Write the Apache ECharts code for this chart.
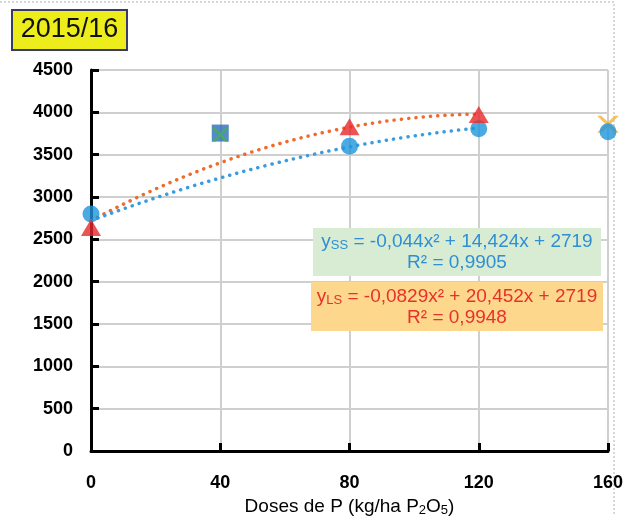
<!DOCTYPE html>
<html><head><meta charset="utf-8">
<script src="https://cdn.jsdelivr.net/npm/echarts@6/dist/echarts.min.js"></script>
<style>html,body{margin:0;padding:0;background:#fff}#c{width:623px;height:516px}</style>
</head><body><div id="c"></div>
<script>
// Data
const ssX = [0, 80, 120, 160];
const ssY = [2800, 3600, 3805, 3770];
const lsX = [0, 80, 120];
const lsY = [2640, 3830, 3975];
const squareX = [40];
const squareY = [3755];
const greenCrossX = [40];
const greenCrossY = [3735];
const orangeCrossX = [160];
const orangeCrossY = [3860];
// Trendline coefficients as printed on the chart (a, b, c) for y = a x^2 + b x + c
const ssCoef = [-0.044, 14.424, 2719];
const lsCoef = [-0.0829, 20.452, 2719];
const trendRange = [0, 120];
const yTicks = [0, 500, 1000, 1500, 2000, 2500, 3000, 3500, 4000, 4500];
const xTicks = [0, 40, 80, 120, 160];

function pairs(xs, ys){ return xs.map((x,i)=>[x, ys[i]]); }
function trend(c){
  const out = [];
  for (let x = trendRange[0]; x <= trendRange[1]; x += 2) out.push([x, c[0]*x*x + c[1]*x + c[2]]);
  return out;
}

const chart = echarts.init(document.getElementById('c'));
const FONT = '"Liberation Sans", Arial, sans-serif';
const dotted = (color) => ({color: color, width: 3.5, type: [0.1, 7.2], cap: 'round'});
const XPATH = 'path://M0,0 L2,0 L5,3 L8,0 L10,0 L6,4 L10,8 L8,8 L5,5 L2,8 L0,8 L4,4 Z';

chart.setOption({
  animation: false,
  grid: {left: 91, right: 15, top: 70, bottom: 65, containLabel: false, outerBoundsMode: 'none'},
  xAxis: {
    type: 'value', min: 0, max: 160, interval: 40,
    axisLine: {lineStyle: {color: '#000', width: 3}},
    axisTick: {inside: true, length: 8, lineStyle: {color: '#000', width: 3}},
    splitLine: {show: true, lineStyle: {color: '#cfcfcf', width: 2}},
    axisLabel: {color: '#000', fontFamily: FONT, fontWeight: 'bold', fontSize: 18, margin: 23,
      formatter: v => xTicks.includes(v) ? String(v) : ''},
    name: '{n|Doses de P (kg/ha P}{s|2}{n|O}{s|5}{n|)}',
    nameLocation: 'middle', nameGap: 42,
    nameTextStyle: {color: '#000', fontFamily: FONT, fontSize: 19,
      rich: {n: {fontFamily: FONT, fontSize: 19, color: '#000'},
             s: {fontFamily: FONT, fontSize: 13, color: '#000', padding: [8, 0, 0, 0]}}}
  },
  yAxis: {
    type: 'value', min: 0, max: 4500, interval: 500,
    axisLine: {show: true, lineStyle: {color: '#000', width: 3}},
    axisTick: {show: true, inside: true, length: 8, lineStyle: {color: '#000', width: 3}},
    splitLine: {show: true, lineStyle: {color: '#cfcfcf', width: 2}},
    axisLabel: {color: '#000', fontFamily: FONT, fontWeight: 'bold', fontSize: 18, margin: 18,
      formatter: v => yTicks.includes(v) ? String(v) : ''}
  },
  series: [
    {type: 'line', data: trend(lsCoef), showSymbol: false, symbol: 'none', smooth: true,
     lineStyle: dotted('#ee6b2c'), z: 2},
    {type: 'line', data: trend(ssCoef), showSymbol: false, symbol: 'none', smooth: true,
     lineStyle: dotted('#3a9ce0'), z: 2},
    {type: 'scatter', data: pairs(orangeCrossX, orangeCrossY), symbol: XPATH,
     symbolSize: [22, 17], itemStyle: {color: '#f2b43c'}, z: 3, clip: false},
    {type: 'scatter', data: pairs(ssX, ssY), symbol: 'circle', symbolSize: 17,
     itemStyle: {color: '#1f95dc'}, z: 4, clip: false},
    {type: 'scatter', data: pairs(lsX, lsY), symbol: 'triangle', symbolSize: [20, 17],
     itemStyle: {color: '#e8282a'}, z: 5, clip: false},
    {type: 'scatter', data: pairs(squareX, squareY), symbol: 'rect', symbolSize: 17,
     itemStyle: {color: '#2b6cba'}, z: 4},
    {type: 'scatter', data: pairs(greenCrossX, greenCrossY), symbol: XPATH,
     symbolSize: [17, 14], itemStyle: {color: '#44b548'}, z: 5}
  ],
  graphic: [
    {type: 'polyline', shape: {points: [[0, 2], [614, 2], [614, 516]]}, style: {fill: 'none', stroke: '#d8d8d8', lineWidth: 2, lineDash: [2, 2]}, z: 0},
    {type: 'rect', shape: {x: 12, y: 10, width: 115, height: 40}, style: {fill: '#eced1a', stroke: '#3a3a6a', lineWidth: 2}, z: 10},
    {type: 'text', x: 69.5, y: 30, style: {text: '2015/16', fontFamily: FONT, fontSize: 27, fill: '#111', textAlign: 'center', textVerticalAlign: 'middle'}, z: 11},
    {type: 'rect', shape: {x: 313, y: 228, width: 288, height: 48}, style: {fill: '#d8ecd3'}, z: 10},
    {type: 'text', x: 457, y: 242, z: 11, style: {
      text: '{n|y}{s|SS}{n| = -0,044x² + 14,424x + 2719}', textAlign: 'center', textVerticalAlign: 'middle',
      rich: {n: {fontFamily: FONT, fontSize: 19, fill: '#2f8ed4', color: '#2f8ed4'},
             s: {fontFamily: FONT, fontSize: 13, fill: '#2f8ed4', color: '#2f8ed4', padding: [6, 0, 0, 0]}}}},
    {type: 'text', x: 457, y: 263, z: 11, style: {text: 'R² = 0,9905', fontFamily: FONT, fontSize: 19, fill: '#2f8ed4', textAlign: 'center', textVerticalAlign: 'middle'}},
    {type: 'rect', shape: {x: 311, y: 282, width: 292, height: 49}, style: {fill: '#fdd88c'}, z: 10},
    {type: 'text', x: 457, y: 297, z: 11, style: {
      text: '{n|y}{s|LS}{n| = -0,0829x² + 20,452x + 2719}', textAlign: 'center', textVerticalAlign: 'middle',
      rich: {n: {fontFamily: FONT, fontSize: 19, fill: '#e8302c', color: '#e8302c'},
             s: {fontFamily: FONT, fontSize: 13, fill: '#e8302c', color: '#e8302c', padding: [6, 0, 0, 0]}}}},
    {type: 'text', x: 457, y: 318, z: 11, style: {text: 'R² = 0,9948', fontFamily: FONT, fontSize: 19, fill: '#e8302c', textAlign: 'center', textVerticalAlign: 'middle'}}
  ]
});
</script></body></html>
